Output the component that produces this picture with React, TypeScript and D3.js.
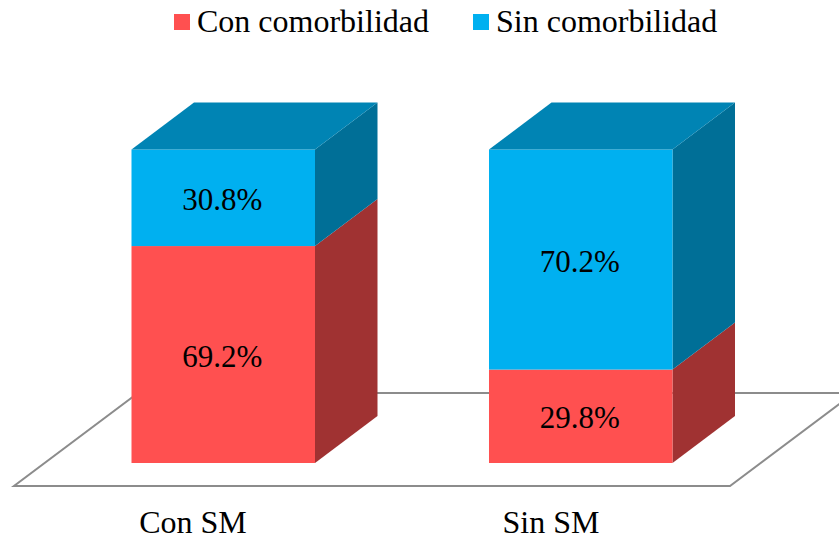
import React from "react";
import * as d3 from "d3";

const categories = ["Con SM", "Sin SM"];
const seriesNames = ["Con comorbilidad", "Sin comorbilidad"];
const conComorbilidad = [69.2, 29.8];
const sinComorbilidad = [30.8, 70.2];
const seriesValues = [conComorbilidad, sinComorbilidad];
const front = ["#FF5050", "#00B0F0"];
const top = ["#BF3C3C", "#0084B4"];
const side = ["#A03232", "#006F97"];

const W = 839;
const H = 537;
const DX = 62.5;
const DY = -47;
const FONT = "'Liberation Serif', 'Times New Roman', serif";

const x = d3.scaleBand<string>().domain(categories).range([131.5, 672.5]).paddingInner(0.4867);
const y = d3.scaleLinear().domain([0, 100]).range([463, 149.5]);
const line = d3.line();
const poly = (pts: [number, number][]) => line(pts) + "Z";

export default function App() {
  const stack = d3.stack<number>().keys([0, 1] as any).value((i: any, k: any) => seriesValues[k][i])(
    categories.map((_, i) => i)
  );
  return (
    <svg width={W} height={H} style={{ position: "absolute", left: 0, top: 0, background: "#fff" }} fontFamily={FONT}>
      <path
        d={poly([[14, 486], [730, 486], [854, 393], [138, 393]])}
        fill="none"
        stroke="#8C8C8C"
        strokeWidth={2}
      />
      {categories.map((c, i) => {
        const x0 = x(c)!;
        const x1 = x0 + x.bandwidth();
        return (
          <g key={c}>
            {stack.map((layer, s) => {
              const yb = y(layer[i][0]);
              const yt = y(layer[i][1]);
              return (
                <g key={s}>
                  <path d={poly([[x1, yb], [x1 + DX, yb + DY], [x1 + DX, yt + DY], [x1, yt]])} fill={side[s]} />
                  <rect x={x0} y={yt} width={x1 - x0} height={yb - yt} fill={front[s]} />
                  {s === stack.length - 1 && (
                    <path d={poly([[x0, yt], [x1, yt], [x1 + DX, yt + DY], [x0 + DX, yt + DY]])} fill={top[s]} />
                  )}
                  <text x={(x0 + x1) / 2 - 1} y={(yb + yt) / 2 + 12} textAnchor="middle" fontSize={31} fill="#000">
                    {seriesValues[s][i].toFixed(1)}%
                  </text>
                </g>
              );
            })}
            <text x={i === 0 ? 193 : 551} y={533} textAnchor="middle" fontSize={32} fill="#000">
              {c}
            </text>
          </g>
        );
      })}
      {seriesNames.map((n, s) => {
        const lx = s === 0 ? 174 : 473;
        return (
          <g key={n}>
            <rect x={lx} y={14} width={16} height={16} fill={front[s]} />
            <text x={lx + 23} y={32} fontSize={32} fill="#000">
              {n}
            </text>
          </g>
        );
      })}
    </svg>
  );
}
